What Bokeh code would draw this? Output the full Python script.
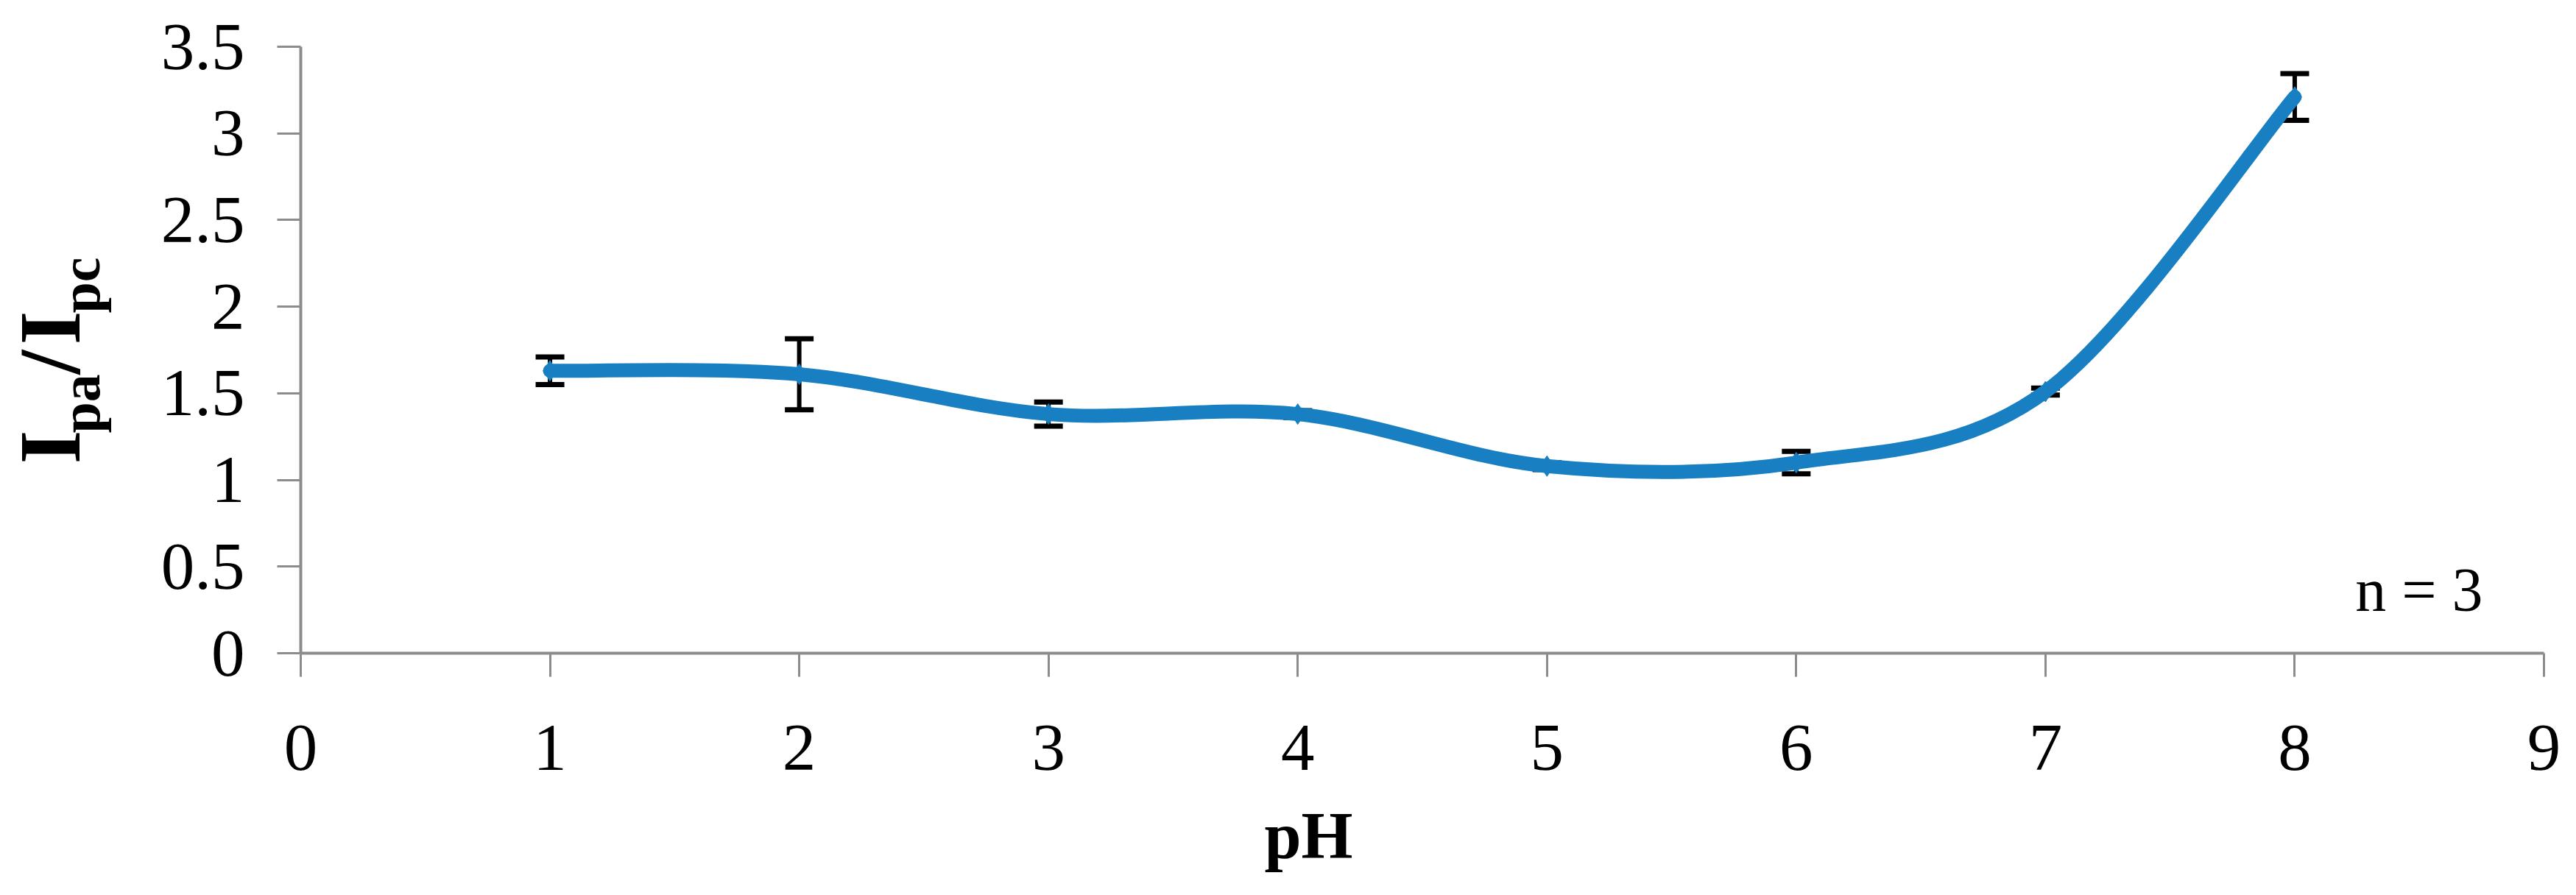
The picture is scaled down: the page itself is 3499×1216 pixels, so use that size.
import numpy as np
from bokeh.plotting import figure
from bokeh.models import Range1d, Label, Whisker, TeeHead, ColumnDataSource, FixedTicker
from bokeh.embed import file_html
from bokeh.resources import INLINE

# ---- data ----
ph = [1, 2, 3, 4, 5, 6, 7, 8]
ratio = [1.63, 1.61, 1.38, 1.38, 1.08, 1.10, 1.51, 3.21]
err = [0.08, 0.205, 0.07, 0.02, 0.02, 0.065, 0.02, 0.135]
x_ticks = [0, 1, 2, 3, 4, 5, 6, 7, 8, 9]
x_tick_labels = ["0", "1", "2", "3", "4", "5", "6", "7", "8", "9"]
y_ticks = [0, 0.5, 1, 1.5, 2, 2.5, 3, 3.5]
y_tick_labels = ["0", "0.5", "1", "1.5", "2", "2.5", "3", "3.5"]
x_title = "pH"
y_title_parts = ["I", "pa", "/", "I", "pc"]
note = "n = 3"

BLUE = "#1880c2"
GRAY = "#8c8c8c"
SERIF = "Liberation Serif"
MID = (0.891 - 0.216) / 2.0   # baseline -> middle of text box, in em

# canvas / layout (page pixels, 8px page margin)
W, H = 3483, 1200
XMIN, XMAX, YMIN, YMAX = 0, 9, 0, 3.5
PX0, PX1 = 416, 3463      # page x of XMIN / XMAX
PY0, PY1 = 895, 71        # page y of YMIN / YMAX
SX = (PX1 - PX0) / (XMAX - XMIN)
SY = (PY0 - PY1) / (YMAX - YMIN)


def dx(px):
    return XMIN + (px - PX0) / SX


def dy(py):
    return YMIN + (PY0 - py) / SY


p = figure(width=W, height=H,
           x_range=Range1d(dx(8), dx(8 + W)), y_range=Range1d(dy(8 + H), dy(8)),
           output_backend="svg", toolbar_location=None,
           min_border_left=0, min_border_right=0, min_border_top=0, min_border_bottom=0)
p.outline_line_color = None
p.xgrid.visible = False
p.ygrid.visible = False
p.background_fill_color = "white"
p.border_fill_color = "white"

for ax in (p.xaxis, p.yaxis):
    ax.fixed_location = 0
    ax.axis_line_color = GRAY
    ax.axis_line_width = 4
    ax.major_tick_line_color = GRAY
    ax.major_tick_line_width = 3
    ax.major_tick_out = 32
    ax.major_tick_in = 0
    ax.minor_tick_line_color = None
    ax.major_label_text_font = SERIF
    ax.major_label_text_font_size = "91px"
    ax.major_label_text_color = "black"

p.xaxis.bounds = (XMIN, XMAX)
p.yaxis.bounds = (YMIN, YMAX)
p.xaxis.ticker = FixedTicker(ticks=x_ticks)
p.xaxis.major_label_overrides = {t: s for t, s in zip(x_ticks, x_tick_labels)}
p.yaxis.ticker = FixedTicker(ticks=y_ticks)
p.yaxis.major_label_overrides = {t: s for t, s in zip(y_ticks, y_tick_labels)}
p.xaxis.major_label_standoff = 66
p.yaxis.major_label_standoff = 44

# error bars (under the line)
upper = [r + e for r, e in zip(ratio, err)]
lower = [r - e for r, e in zip(ratio, err)]
src = ColumnDataSource(dict(x=ph, y=ratio, upper=upper, lower=lower))
wh = Whisker(source=src, base="x", upper="upper", lower="lower",
             line_color="black", line_width=6, level="underlay",
             upper_head=TeeHead(size=39, line_width=7, line_color="black"),
             lower_head=TeeHead(size=39, line_width=7, line_color="black"))
p.add_layout(wh)

# smoothed line (Catmull-Rom style bezier through the data points)
xs = np.array(ph, dtype=float)
ys = np.array(ratio, dtype=float)
xp = np.concatenate([[xs[0]], xs, [xs[-1]]])
yp = np.concatenate([[ys[0]], ys, [ys[-1]]])
n = len(xs)
x0 = xp[1:n]; y0 = yp[1:n]
x1 = xp[2:n + 1]; y1 = yp[2:n + 1]
cx0 = x0 + (xp[2:n + 1] - xp[0:n - 1]) / 6.0
cy0 = y0 + (yp[2:n + 1] - yp[0:n - 1]) / 6.0
cx1 = x1 - (xp[3:n + 2] - xp[1:n]) / 6.0
cy1 = y1 - (yp[3:n + 2] - yp[1:n]) / 6.0
p.bezier(x0=x0, y0=y0, x1=x1, y1=y1, cx0=cx0, cy0=cy0, cx1=cx1, cy1=cy1,
         line_color=BLUE, line_width=19, line_cap="round")
p.scatter(x=ph, y=ratio, marker="diamond", size=28, fill_color=BLUE, line_color=BLUE)

# y-axis title built from pieces (big I, subscripts): (font px, baseline page-x, start page-y)
y_title_layout = [(118, 116, 638), (76, 142, 596), (118, 116, 516), (118, 116, 476), (76, 142, 433)]
for txt, (fs, bx, by) in zip(y_title_parts, y_title_layout):
    p.add_layout(Label(x=dx(bx - MID * fs), y=dy(by), text=txt, angle=np.pi / 2,
                       text_font=SERIF, text_font_size=f"{fs}px", text_font_style="bold",
                       text_align="left", text_baseline="middle", text_color="black"))

# x-axis title (baseline at page y 1172)
p.add_layout(Label(x=dx(1785), y=dy(1173 - MID * 90), text=x_title, text_font=SERIF,
                   text_font_size="90px", text_font_style="bold",
                   text_align="center", text_baseline="middle", text_color="black"))

# sample size note (baseline at page y 837, right edge at 3380)
p.add_layout(Label(x=dx(3380), y=dy(837 - MID * 84), text=note, text_font=SERIF,
                   text_font_size="84px", text_align="right",
                   text_baseline="middle", text_color="black"))

open("out.html", "w").write(file_html(p, INLINE, title="pH chart"))
